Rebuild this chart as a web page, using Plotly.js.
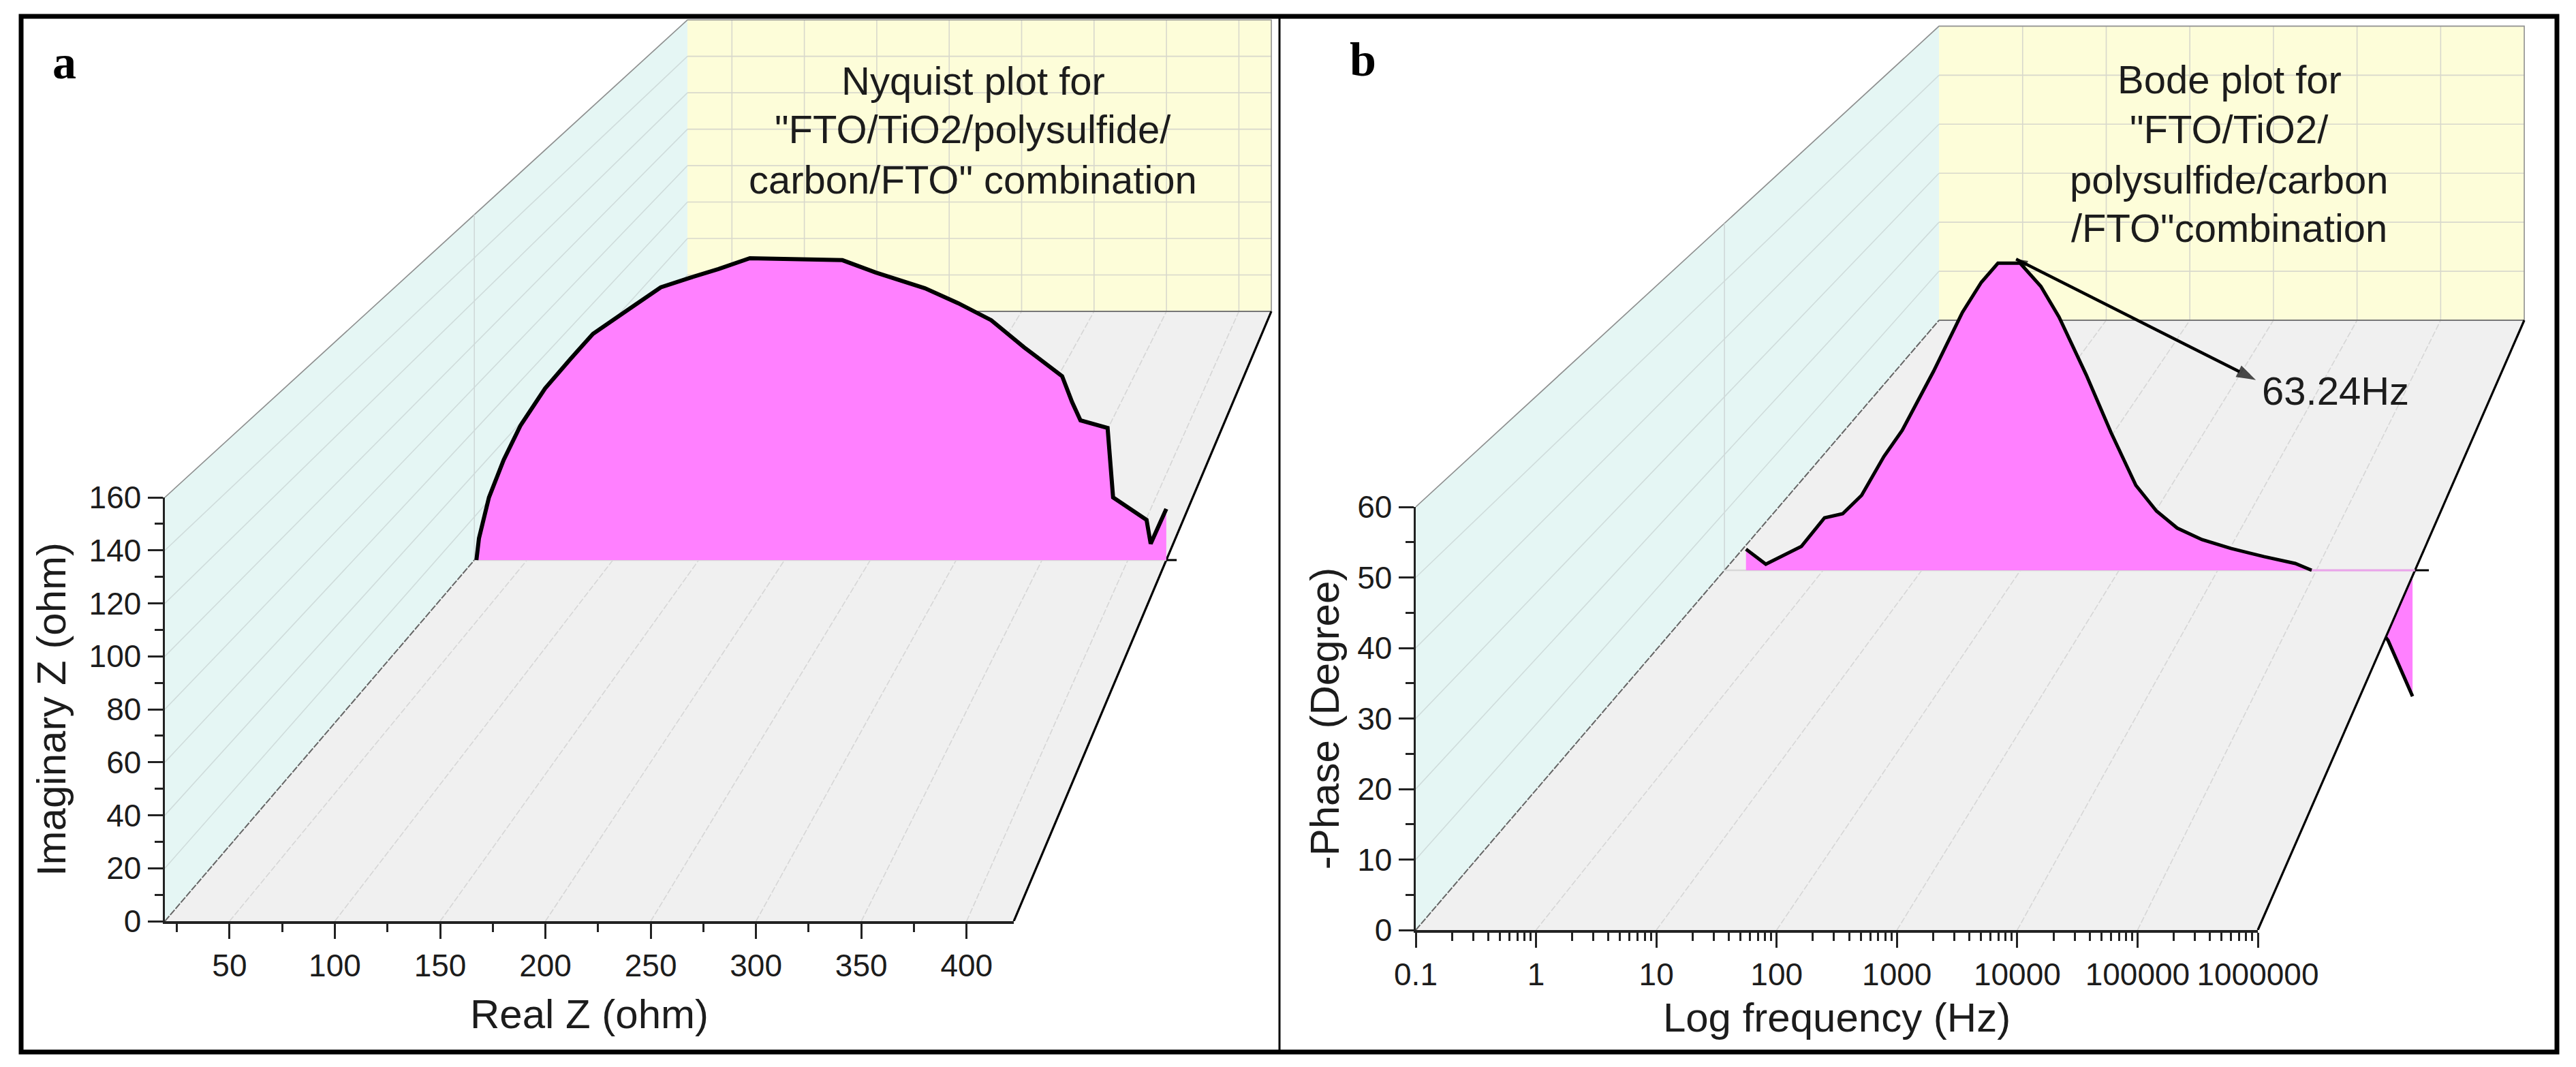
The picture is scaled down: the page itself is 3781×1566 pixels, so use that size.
<!DOCTYPE html>
<html>
<head>
<meta charset="utf-8">
<script src="https://cdn.plot.ly/plotly-3.0.1.min.js"></script>
<style>html,body{margin:0;padding:0;background:#fff}</style>
</head>
<body>
<div id="chart"></div>
<script>
// ---- chart data ----
const realZ = [20.5,22.0,27.8,36.4,46.1,60.5,74.9,88.4,108.6,127.9,144.7,161.5,179.8,207.3,233.7,253,281.8,301.1,320.4,339.6,361.7,367.5,372.4,388.2,391.4,410.9,413.3,422.4];
const imaginaryZ = [0,10.1,29.0,46.4,62.2,79.5,92.8,104.8,115.8,126.3,130.7,134.8,139.8,139.5,138.9,133.2,125.9,119,111.1,98.5,85.2,73.2,64.7,61.2,29.0,18.6,7.6,23.7];
const logFrequency = [-0.782,-0.581,-0.221,0.014,0.198,0.390,0.616,0.800,1.119,1.412,1.604,1.772,1.997,2.207,2.391,2.667,2.919,3.170,3.379,3.589,3.840,4.133,4.468,4.786,4.953];
const phase = [3.65,1.06,4.12,9.07,9.78,12.96,19.67,24.15,34.4,44.6,49.8,53.1,53.1,49.1,43.8,33.8,23.8,14.7,10.25,7.3,5.3,3.77,2.36,1.18,0];
const logFrequencyLow = [4.953,5.2,5.5,5.726,5.975];
const phaseLow = [0,-2,-7,-12.1,-21.8];
const peakArrowLogF = [1.956,4.387];
const peakArrowPhase = [53.8,32.9];

const xTicksA = [50,100,150,200,250,300,350,400];
const yTicksA = [0,20,40,60,80,100,120,140,160];
const xTicksB = [0.1,1,10,100,1000,10000,100000,1000000];
const xTickLabelsB = ['0.1','1','10','100','1000','10000','100000','1000000'];
const yTicksB = [0,10,20,30,40,50,60];
const titleLinesA = ['Nyquist plot for','"FTO/TiO2/polysulfide/','carbon/FTO" combination'];
const titleLinesB = ['Bode plot for','"FTO/TiO2/','polysulfide/carbon','/FTO"combination'];

// ---- page geometry ----
const W = 3781, H = 1566;
const FONT = '"Liberation Sans", Arial, sans-serif';
const TEXT = '#1c1c1c';
const px = X => X / W, py = Y => 1 - Y / H;

// Each panel: visible axes (xv,yv) carry ticks and titles; a wider hidden pair (xa,ya) of the
// same scale carries the receding walls and the curve, which stand beyond the visible frame.
const panelA = {xa:'x', ya:'y', xv:'x3', yv:'y3', log:false, lo:19.3, hi:422.4, ymax:160,
  dX:0.6156, dY:1.4389, k:0.3122, planeT:0.5922, left:242, right:1488, top:730, bottom:1352, farRight:1878};
const panelB = {xa:'x2', ya:'y2', xv:'x4', yv:'y4', log:true, lo:-1, hi:6, ymax:60,
  dX:0.6214, dY:1.4412, k:0.305, planeT:0.59, left:2078, right:3314, top:744, bottom:1365, farRight:3770};

function proj(p, u, v, t) {
  const s = 1 - p.k * t;
  const U = p.dX * t + s * u, V = p.dY * t + s * v;
  const xv = p.lo + U * (p.hi - p.lo);
  return [p.log ? Math.pow(10, xv) : xv, V * p.ymax];
}
const poly = (p, pts) => {
  const o = pts.map(q => proj(p, q[0], q[1], q[2]));
  return {x:o.map(a => a[0]), y:o.map(a => a[1])};
};
const base = p => ({xaxis:p.xa, yaxis:p.ya, mode:'lines', showlegend:false, hoverinfo:'skip', cliponaxis:false});
const fillT = (p, pts, color) => Object.assign(base(p), poly(p, pts), {fill:'toself', fillcolor:color, line:{width:0, color:color}});
const lineT = (p, pts, color, width, dash) => Object.assign(base(p), poly(p, pts), {line:{color:color, width:width, dash:dash || 'solid'}});

function uOf(p, x) { return ((p.log ? Math.log10(x) : x) - p.lo) / (p.hi - p.lo); }

function walls(p, xTicks, yTicks) {
  const t = [];
  t.push(fillT(p, [[0,0,0],[0,1,0],[0,1,1],[0,0,1]], '#e5f6f4'));
  t.push(fillT(p, [[0,0,1],[1,0,1],[1,1,1],[0,1,1]], '#fdfdd9'));
  xTicks.forEach(x => { const u = uOf(p, x); if (u > 0 && u < 1) t.push(lineT(p, [[u,0,1],[u,1,1]], '#d8d8cc', 1.6)); });
  yTicks.forEach(y => {
    const v = y / p.ymax;
    if (v > 0 && v < 1) t.push(lineT(p, [[0,v,1],[1,v,1]], '#d8d8cc', 1.6));
    if (v > 0) t.push(lineT(p, [[0,v,0],[0,v,1]], '#cfdcdb', 1.6));
  });
  t.push(lineT(p, [[0,1,0],[0,1,1],[1,1,1],[1,0,1]], '#8f8f8f', 1.6));
  t.push(lineT(p, [[0,0,p.planeT],[0,1,p.planeT]], '#cfd8d8', 1.6));
  return t;
}
function floorT(p, xTicks) {
  const t = [];
  t.push(fillT(p, [[0,0,0],[1,0,0],[1,0,1],[0,0,1]], '#f0f0f0'));
  xTicks.forEach(x => { const u = uOf(p, x); if (u > 0 && u < 1) t.push(lineT(p, [[u,0,0],[u,0,1]], '#d6d6d6', 1.6, '9px,3px')); });
  t.push(lineT(p, [[0,0,0],[0,0,1]], '#666666', 2, '10px,2px'));
  t.push(lineT(p, [[0,0,1],[1,0,1]], '#777777', 2));
  t.push(lineT(p, [[1,0,0],[1,0,1]], '#000000', 3.2));
  t.push(lineT(p, [[0,0,p.planeT],[1,0,p.planeT]], '#d8d8d8', 2.5));
  return t;
}
function planePts(p, xs, ys) {
  const o = xs.map((x, i) => proj(p, (x - p.lo) / (p.hi - p.lo), ys[i] / p.ymax, p.planeT));
  return {x:o.map(a => a[0]), y:o.map(a => a[1])};
}
function curve(p, xs, ys, w) {
  const xf = [xs[0]].concat(xs, [xs[xs.length - 1]]);
  const yf = [0].concat(ys, [0]);
  return [
    Object.assign(base(p), planePts(p, xf, yf), {fill:'toself', fillcolor:'#ff80ff', line:{width:0, color:'#ff80ff'}}),
    Object.assign(base(p), planePts(p, xs, ys), {line:{color:'#000000', width:w, shape:'linear'}})
  ];
}

let traces = [];
// panel a
traces = traces.concat(walls(panelA, xTicksA, yTicksA), floorT(panelA, xTicksA), curve(panelA, realZ, imaginaryZ, 6));
traces.push(lineT(panelA, [[1,0,panelA.planeT],[1.015,0,panelA.planeT]], '#000000', 3));
// panel b
traces = traces.concat(walls(panelB, xTicksB, yTicksB));
traces = traces.concat(curve(panelB, logFrequencyLow, phaseLow, 5));
traces = traces.concat(floorT(panelB, xTicksB));
traces = traces.concat(curve(panelB, logFrequency, phase, 5));
traces.push(lineT(panelB, [[(4.953 - panelB.lo) / (panelB.hi - panelB.lo),0,panelB.planeT],[1,0,panelB.planeT]], '#eaa4ea', 3));
traces.push(lineT(panelB, [[1,0,panelB.planeT],[1.02,0,panelB.planeT]], '#000000', 3));
// arrow from the Bode peak to its label
const arrowXY = planePts(panelB, peakArrowLogF, peakArrowPhase);
traces.push(Object.assign(base(panelB), arrowXY, {mode:'lines+markers',
  line:{color:'#000000', width:4.5},
  marker:{symbol:'arrow', angleref:'previous', size:[0,30], color:'#000000', line:{width:0}}}));
traces.push(Object.assign(base(panelB), {x:arrowXY.x.slice().reverse(), y:arrowXY.y.slice().reverse()}, {mode:'markers',
  marker:{symbol:'arrow', angleref:'previous', size:[0,18], color:'#000000', line:{width:0}}}));
// anchor traces for the visible axes
[panelA, panelB].forEach(p => traces.push({xaxis:p.xv, yaxis:p.yv, x:[p.log ? Math.pow(10,p.lo) : p.lo], y:[0], mode:'markers',
  marker:{size:1, opacity:0}, showlegend:false, hoverinfo:'skip'}));

function hiddenAxes(p) {
  const scaleX = (p.hi - p.lo) / (p.right - p.left);
  const scaleY = p.ymax / (p.bottom - p.top);
  return [
    {visible:false, domain:[px(p.left), px(p.farRight)], anchor:p.ya, type:p.log ? 'log' : 'linear',
     range:[p.lo, p.lo + (p.farRight - p.left) * scaleX], fixedrange:true},
    {visible:false, domain:[py(p.bottom), 1], anchor:p.xa, range:[0, p.bottom * scaleY], fixedrange:true}
  ];
}
const [hxA, hyA] = hiddenAxes(panelA);
const [hxB, hyB] = hiddenAxes(panelB);

function axisX(p, extra) {
  return Object.assign({
    domain:[px(p.left), px(p.right)], anchor:p.yv, showgrid:false, zeroline:false,
    showline:true, linecolor:'#222222', linewidth:3.5, mirror:false,
    ticks:'outside', ticklen:22, tickwidth:3, tickcolor:'#222222',
    tickfont:{family:FONT, size:46, color:TEXT}, fixedrange:true
  }, extra);
}
function axisY(p, extra) {
  return Object.assign({
    domain:[py(p.bottom), py(p.top)], anchor:p.xv, showgrid:false, zeroline:false,
    showline:true, linecolor:'#222222', linewidth:3.5,
    ticks:'outside', ticklen:22, tickwidth:3, tickcolor:'#222222',
    tickfont:{family:FONT, size:46, color:TEXT}, fixedrange:true
  }, extra);
}
const minorTick = {ticks:'outside', ticklen:12, tickwidth:3, tickcolor:'#222222', showgrid:false};
const decadeMinors = [];
for (let d = -1; d < 6; d++) for (let m = 2; m <= 9; m++) decadeMinors.push(m * Math.pow(10, d));

const textAnn = (X, Y, text, size, extra) => Object.assign({
  xref:'paper', yref:'paper', x:px(X), y:py(Y), text:text, showarrow:false,
  xanchor:'center', yanchor:'middle', font:{family:FONT, size:size, color:TEXT}
}, extra || {});

const titleYA = [118,190,263], titleYB = [117,190,263,335];
const annotations = [
  textAnn(94, 92, '<b>a</b>', 70, {font:{family:'"Liberation Serif", serif', size:70, color:'#000000'}}),
  textAnn(2000, 88, '<b>b</b>', 70, {font:{family:'"Liberation Serif", serif', size:70, color:'#000000'}}),
  textAnn(3428, 573, '63.24Hz', 58)
].concat(
  titleLinesA.map((s, i) => textAnn(1428, titleYA[i], s, 58)),
  titleLinesB.map((s, i) => textAnn(3272, titleYB[i], s, 58))
);

const shapes = [
  {type:'rect', xref:'paper', yref:'paper', layer:'above', fillcolor:'rgba(0,0,0,0)', x0:px(31), x1:px(3753), y0:py(1544), y1:py(24), line:{color:'#000000', width:7}},
  {type:'line', xref:'paper', yref:'paper', layer:'above', x0:px(1878), x1:px(1878), y0:py(1544), y1:py(24), line:{color:'#000000', width:3}}
];

const nb = '\u00a0';
const titleFont = {family:FONT, size:60, color:TEXT};
const layout = {
  width:W, height:H, margin:{l:0, r:0, t:0, b:0, pad:0}, autosize:false,
  paper_bgcolor:'#ffffff', plot_bgcolor:'rgba(0,0,0,0)', showlegend:false, hovermode:false,
  xaxis:hxA, yaxis:hyA, xaxis2:hxB, yaxis2:hyB,
  xaxis3:axisX(panelA, {range:[panelA.lo, panelA.hi], tickmode:'array', tickvals:xTicksA,
    minor:Object.assign({dtick:25, tick0:0}, minorTick),
    title:{text:'Real Z (ohm)', font:titleFont, standoff:26}, ticklabelstandoff:0}),
  yaxis3:axisY(panelA, {range:[0, panelA.ymax], tickmode:'array', tickvals:yTicksA,
    minor:Object.assign({dtick:10, tick0:0}, minorTick),
    title:{text:'Imaginary Z (ohm)' + nb.repeat(5), font:titleFont, standoff:15}}),
  xaxis4:axisX(panelB, {type:'log', range:[panelB.lo, panelB.hi], tickmode:'array', tickvals:xTicksB, ticktext:xTickLabelsB,
    minor:Object.assign({tickmode:'array', tickvals:decadeMinors}, minorTick),
    title:{text:nb.repeat(4) + 'Log frequency (Hz)', font:titleFont, standoff:18}, ticklabelstandoff:0}),
  yaxis4:axisY(panelB, {range:[0, panelB.ymax], tickmode:'array', tickvals:yTicksB,
    minor:Object.assign({dtick:5, tick0:0}, minorTick),
    title:{text:'-Phase (Degree)', font:titleFont, standoff:8}}),
  annotations:annotations,
  shapes:shapes
};
Plotly.newPlot('chart', traces, layout, {staticPlot:true, displayModeBar:false});
</script>
</body>
</html>
